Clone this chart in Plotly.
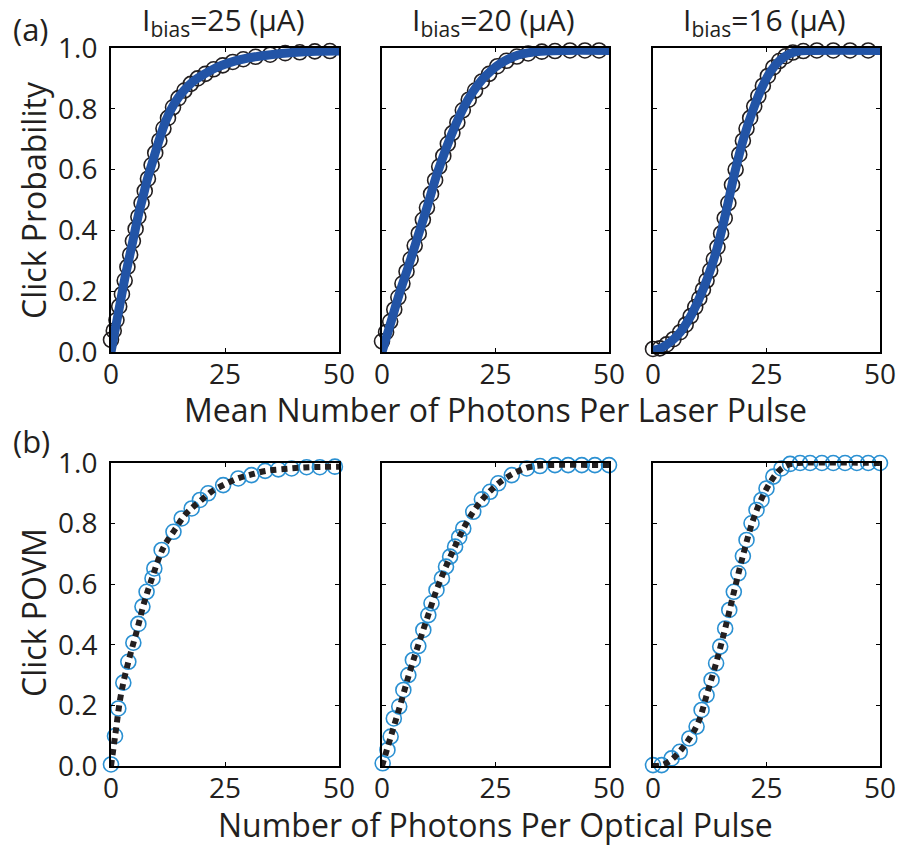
import plotly.graph_objects as go

# ---------------- (a) click probability vs mean photon number ----------------
# measured points (open black circles)
a1_n = [0, 0.6, 1.2, 1.8, 2.4, 3.0, 3.6, 4.2, 4.8, 5.4, 6.0, 6.7, 7.4, 8.1, 8.9, 9.7,
        10.6, 11.5, 12.5, 13.6, 14.8, 16.1, 17.5, 19.0, 20.7, 22.5, 24.5, 26.7, 29.0,
        31.7, 34.9, 38.2, 41.4, 44.7, 48.0]
a1_p = [0.04, 0.07, 0.105, 0.15, 0.19, 0.235, 0.28, 0.32, 0.365, 0.405, 0.445, 0.49,
        0.53, 0.57, 0.615, 0.655, 0.695, 0.735, 0.77, 0.805, 0.835, 0.86, 0.882, 0.9,
        0.915, 0.93, 0.943, 0.954, 0.963, 0.971, 0.978, 0.983, 0.986, 0.989, 0.99]
a2_n = [0, 0.9, 1.8, 2.7, 3.6, 4.5, 5.4, 6.3, 7.2, 8.1, 9.0, 9.9, 10.8, 11.7, 12.6,
        13.5, 14.5, 15.5, 16.6, 17.8, 19.1, 20.5, 22.0, 23.6, 25.4, 27.4, 29.7, 32.2,
        35.2, 38.1, 41.4, 44.7, 47.8]
a2_p = [0.035, 0.065, 0.1, 0.14, 0.18, 0.225, 0.265, 0.305, 0.35, 0.39, 0.435, 0.475,
        0.52, 0.565, 0.61, 0.645, 0.685, 0.72, 0.755, 0.795, 0.83, 0.86, 0.89, 0.915,
        0.94, 0.958, 0.972, 0.982, 0.988, 0.99, 0.992, 0.992, 0.992]
a3_n = [0, 1.5, 3.0, 4.5, 6.0, 7.2, 8.3, 9.3, 10.2, 11.0, 11.8, 12.6, 13.4, 14.2, 15.0,
        15.8, 16.6, 17.4, 18.2, 19.0, 19.8, 20.6, 21.4, 22.3, 23.2, 24.2, 25.3, 26.5,
        27.8, 29.2, 30.8, 33.1, 36.1, 39.7, 43.4, 47.4]
a3_p = [0.01, 0.012, 0.025, 0.042, 0.065, 0.09, 0.118, 0.148, 0.176, 0.205, 0.235,
        0.268, 0.305, 0.345, 0.39, 0.44, 0.49, 0.55, 0.6, 0.65, 0.695, 0.735, 0.77,
        0.808, 0.842, 0.876, 0.908, 0.936, 0.957, 0.973, 0.985, 0.99, 0.992, 0.992,
        0.992, 0.992]

# fitted model (thick blue curve)
fa1_n = [0, 1, 2, 3, 4, 5, 6, 7, 8, 9, 10, 12, 14, 16, 18, 20, 23, 26, 30, 35, 40, 45, 50]
fa1_p = [0, 0.08, 0.16, 0.24, 0.31, 0.38, 0.45, 0.51, 0.57, 0.62, 0.67, 0.76, 0.82,
         0.86, 0.89, 0.91, 0.935, 0.952, 0.967, 0.978, 0.985, 0.989, 0.99]
fa2_n = [0, 2, 4, 6, 8, 10, 12, 14, 16, 18, 20, 22, 24, 26, 28, 30, 33, 36, 40, 50]
fa2_p = [0, 0.1, 0.2, 0.29, 0.385, 0.48, 0.58, 0.665, 0.74, 0.805, 0.855, 0.895,
         0.925, 0.948, 0.965, 0.977, 0.986, 0.99, 0.992, 0.992]
fa3_n = [0, 2, 4, 6, 8, 10, 12, 14, 16, 18, 20, 22, 24, 26, 28, 30, 32, 35, 50]
fa3_p = [0.005, 0.015, 0.035, 0.065, 0.11, 0.17, 0.243, 0.335, 0.455, 0.59, 0.705,
         0.795, 0.87, 0.925, 0.96, 0.98, 0.99, 0.992, 0.992]

# ---------------- (b) click POVM vs photon number ----------------
b1_n = [0, 0.88, 1.6, 2.7, 3.8, 4.9, 6.0, 6.9, 7.8, 9.1, 9.5, 11.1, 13.7, 15.5, 17.7,
        19.5, 21.3, 24.6, 27.9, 30.8, 33.8, 36.7, 39.6, 42.9, 45.8, 49.1]
b1_p = [0.005, 0.099, 0.19, 0.275, 0.344, 0.407, 0.469, 0.526, 0.575, 0.619, 0.652,
        0.713, 0.773, 0.817, 0.85, 0.878, 0.9, 0.927, 0.949, 0.96, 0.974, 0.979, 0.982,
        0.986, 0.986, 0.988]
b2_n = [0.15, 1.2, 1.9, 2.6, 3.8, 4.7, 5.8, 6.8, 8.0, 9.1, 10.2, 10.9, 12.0, 13.2,
        14.1, 15.0, 16.1, 17.0, 17.9, 20.1, 22.0, 23.8, 25.6, 28.6, 31.9, 34.8, 38.1,
        41.0, 44.0, 46.9, 50.0]
b2_p = [0.009, 0.053, 0.097, 0.157, 0.196, 0.251, 0.3, 0.35, 0.396, 0.449, 0.498,
        0.537, 0.581, 0.619, 0.658, 0.691, 0.724, 0.755, 0.784, 0.839, 0.88, 0.905,
        0.933, 0.96, 0.982, 0.99, 0.993, 0.993, 0.993, 0.993, 0.993]
b3_n = [0, 1.9, 4.1, 5.9, 8.0, 9.6, 10.7, 11.8, 12.9, 13.9, 14.8, 15.9, 16.8, 17.8,
        18.8, 19.8, 20.6, 21.7, 22.8, 23.9, 25.0, 26.5, 28.3, 30.2, 32.4, 34.6, 37.2,
        39.7, 42.3, 44.9, 47.4, 50.0]
b3_p = [0.003, 0.003, 0.025, 0.047, 0.091, 0.13, 0.185, 0.234, 0.284, 0.339, 0.394,
        0.454, 0.515, 0.575, 0.636, 0.693, 0.746, 0.801, 0.845, 0.878, 0.916, 0.955,
        0.982, 0.997, 1.0, 1.0, 1.0, 1.0, 1.0, 1.0, 1.0, 1.0]

# POVM model (black dashed curve)
fb1_n = [0, 1, 2, 3, 4, 5, 6, 7, 8, 9, 10, 11, 12, 14, 16, 18, 20, 22, 25, 28, 31,
         34, 38, 42, 46, 50]
fb1_p = [0, 0.11, 0.22, 0.295, 0.355, 0.41, 0.465, 0.525, 0.575, 0.62, 0.665, 0.705,
         0.735, 0.78, 0.825, 0.855, 0.88, 0.905, 0.93, 0.95, 0.963, 0.974, 0.98, 0.985,
         0.987, 0.988]
fb2_n = [0, 2, 4, 6, 8, 10, 12, 14, 16, 18, 20, 22, 24, 26, 28, 30, 32, 34, 36, 50]
fb2_p = [0, 0.1, 0.2, 0.305, 0.4, 0.49, 0.58, 0.655, 0.722, 0.785, 0.837, 0.878,
         0.91, 0.937, 0.957, 0.973, 0.985, 0.99, 0.993, 0.993]
fb3_n = [0, 2, 4, 6, 8, 10, 12, 14, 16, 18, 20, 22, 24, 26, 28, 30, 32, 50]
fb3_p = [0, 0.003, 0.02, 0.05, 0.09, 0.145, 0.243, 0.345, 0.46, 0.585, 0.705, 0.81,
         0.885, 0.94, 0.978, 0.995, 1.0, 1.0]

bias_labels = ["I<sub>bias</sub>=25 (μA)", "I<sub>bias</sub>=20 (μA)",
               "I<sub>bias</sub>=16 (μA)"]
x_ticks = [0, 25, 50]
y_ticks = [0.0, 0.2, 0.4, 0.6, 0.8, 1.0]

FONT = "Open Sans, Lato, sans-serif"
INK = "#231f20"
W, H = 902, 848
col_px = [(111, 339), (382, 609), (653, 880)]
row_px = [(48, 352), (463, 766)]

fig = go.Figure()

top_pts = [(a1_n, a1_p), (a2_n, a2_p), (a3_n, a3_p)]
top_fit = [(fa1_n, fa1_p), (fa2_n, fa2_p), (fa3_n, fa3_p)]
bot_pts = [(b1_n, b1_p), (b2_n, b2_p), (b3_n, b3_p)]
bot_fit = [(fb1_n, fb1_p), (fb2_n, fb2_p), (fb3_n, fb3_p)]

layout = {}
for r in range(2):
    for c in range(3):
        k = r * 3 + c + 1
        xa = "x" if k == 1 else f"x{k}"
        ya = "y" if k == 1 else f"y{k}"
        x0, x1 = col_px[c]
        y0, y1 = row_px[r]
        axis_common = dict(
            showline=True, linecolor="black", linewidth=2, mirror="ticks",
            ticks="inside", ticklen=4, tickwidth=1, tickcolor="black",
            showgrid=False, zeroline=False, automargin=False,
            tickfont=dict(family=FONT, size=28, color=INK),
        )
        layout["xaxis" if k == 1 else f"xaxis{k}"] = dict(
            domain=[x0 / W, x1 / W], range=[0, 50], tickvals=x_ticks,
            anchor=ya, ticklabelstandoff=-4, **axis_common)
        layout["yaxis" if k == 1 else f"yaxis{k}"] = dict(
            domain=[1 - y1 / H, 1 - y0 / H], range=[0, 1], tickvals=y_ticks,
            tickformat=".1f", anchor=xa, showticklabels=(c == 0),
            ticklabelstandoff=6, **axis_common)

        if r == 0:
            pn, pp = top_pts[c]
            fn, fp = top_fit[c]
            fig.add_trace(go.Scatter(
                x=pn, y=pp, mode="markers", xaxis=xa, yaxis=ya, cliponaxis=False,
                marker=dict(symbol="circle-open", size=15, color=INK,
                            line=dict(width=1.6, color=INK))))
            fig.add_trace(go.Scatter(
                x=fn, y=fp, mode="lines", xaxis=xa, yaxis=ya, cliponaxis=False,
                line=dict(color="#2254a6", width=9, shape="spline")))
        else:
            pn, pp = bot_pts[c]
            fn, fp = bot_fit[c]
            fig.add_trace(go.Scatter(
                x=pn, y=pp, mode="markers", xaxis=xa, yaxis=ya, cliponaxis=False,
                marker=dict(symbol="circle-open", size=15, color="#2a90d2",
                            line=dict(width=1.6, color="#2a90d2"))))
            fig.add_trace(go.Scatter(
                x=fn, y=fp, mode="lines", xaxis=xa, yaxis=ya, cliponaxis=False,
                line=dict(color=INK, width=6, dash="6px,5px", shape="spline")))


def paper_text(text, x, y, size, angle=0, xanchor="center"):
    return dict(text=text, x=x / W, y=1 - y / H, xref="paper", yref="paper",
                showarrow=False, xanchor=xanchor, yanchor="middle",
                textangle=angle, font=dict(family=FONT, size=size, color=INK))


annotations = []
for c in range(3):
    x0, x1 = col_px[c]
    annotations.append(paper_text(bias_labels[c], (x0 + x1) / 2 - 2, 21, 30))
annotations.append(paper_text("(a)", 31, 29, 31))
annotations.append(paper_text("(b)", 31, 441, 31))
annotations.append(paper_text("Mean Number of Photons Per Laser Pulse", 495, 410, 32))
annotations.append(paper_text("Number of Photons Per Optical Pulse", 495, 824, 32))
annotations.append(paper_text("Click Probability", 33, 200, 32, angle=-90))
annotations.append(paper_text("Click POVM", 33, 613, 32, angle=-90))

fig.update_layout(
    width=W, height=H,
    margin=dict(l=0, r=0, t=0, b=0, pad=0, autoexpand=False),
    paper_bgcolor="white", plot_bgcolor="white", showlegend=False,
    annotations=annotations, **layout)

fig.write_html("out.html")
